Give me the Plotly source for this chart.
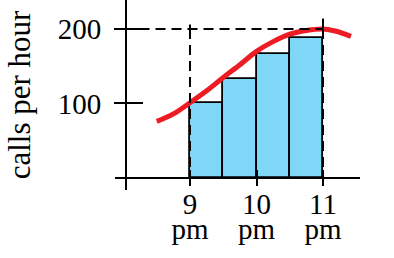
import plotly.graph_objects as go

# hours after 8 pm: 1 -> 9 pm, 2 -> 10 pm, 3 -> 11 pm
tick_vals = [1, 2, 3]
tick_hours = ["9", "10", "11"]
tick_suffix = ["pm", "pm", "pm"]
y_ticks = [100, 200]

bar_x = [1.25, 1.75, 2.25, 2.75]
bar_values = [100, 133, 167, 188]

curve_x = [0.5, 0.75, 1.0, 1.25, 1.5, 1.75, 2.0, 2.25, 2.5, 2.75, 3.0, 3.2, 3.42]
curve_y = [76, 86, 101, 117, 135, 152, 170, 183, 193, 198, 200, 197, 190]

guide_level = 200
xr = [-0.1278, 3.556]
yr = [-16.1, 238.9]

fig = go.Figure()
fig.add_trace(go.Bar(x=bar_x, y=bar_values, width=0.5,
                     marker=dict(color="#7fd6f6", line=dict(color="black", width=1.8)),
                     hoverinfo="skip"))
fig.add_trace(go.Scatter(x=curve_x, y=curve_y, mode="lines",
                         line=dict(color="#ec1c24", width=5, shape="spline"),
                         hoverinfo="skip"))
dash = dict(color="black", width=2, dash="10px,6px")
fig.add_trace(go.Scatter(x=[0, 3], y=[guide_level, guide_level], mode="lines", line=dash, hoverinfo="skip"))
fig.add_trace(go.Scatter(x=[1, 1], y=[guide_level, 0], mode="lines", line=dash, hoverinfo="skip"))
fig.add_trace(go.Scatter(x=[3, 3], y=[guide_level, 0], mode="lines", line=dash, hoverinfo="skip"))
solid = dict(color="black", width=2)
fig.add_trace(go.Scatter(x=[1, 1], y=[206, 194], mode="lines", line=solid, hoverinfo="skip"))
fig.add_trace(go.Scatter(x=[3, 3], y=[214, 201], mode="lines", line=solid, hoverinfo="skip"))
# helper trace for overlay axes
fig.add_trace(go.Scatter(x=[None], y=[None], xaxis="x2", yaxis="y2", mode="lines", hoverinfo="skip"))

font = dict(family="Liberation Serif", size=29, color="black")
xpos = 12 / 190
ypos = 11 / 245

fig.update_layout(
    width=394, height=258,
    margin=dict(l=115, r=34, t=0, b=68),
    paper_bgcolor="white", plot_bgcolor="white",
    showlegend=False,
    bargap=0,
    xaxis=dict(range=xr, anchor="free", position=xpos, showline=True, linecolor="black", linewidth=2,
               ticks="outside", ticklen=7, tickwidth=2, tickcolor="black",
               tickvals=tick_vals, ticktext=tick_hours, tickfont=font, ticklabelstandoff=-7,
               showgrid=False, zeroline=False),
    xaxis2=dict(range=xr, overlaying="x", anchor="free", position=xpos, showline=False,
                ticks="inside", ticklen=8, tickwidth=2, tickcolor="black",
                tickvals=tick_vals, ticktext=tick_suffix, tickfont=font,
                ticklabelstandoff=31, showgrid=False, zeroline=False),
    yaxis=dict(range=yr, anchor="free", position=ypos, showline=True, linecolor="black", linewidth=2,
               ticks="outside", ticklen=11, tickwidth=2, tickcolor="black",
               tickvals=y_ticks, tickfont=font, ticklabelstandoff=7,
               title=dict(text="calls per hour", font=dict(family="Liberation Serif", size=31, color="black"),
                          standoff=17),
               showgrid=False, zeroline=False),
    yaxis2=dict(range=yr, overlaying="y", anchor="free", position=ypos, showline=False,
                ticks="inside", ticklen=16, tickwidth=2, tickcolor="black",
                tickvals=y_ticks, showticklabels=False, showgrid=False, zeroline=False),
)

fig.write_html("out.html")
